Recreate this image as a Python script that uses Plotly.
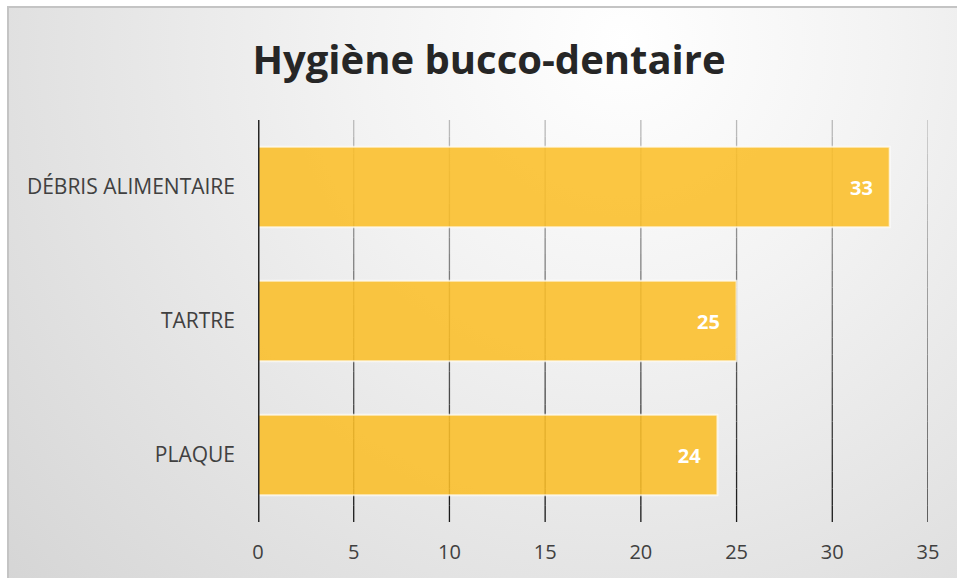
import base64
import plotly.graph_objects as go

categories = ["PLAQUE", "TARTRE", "DÉBRIS ALIMENTAIRE"]
values = [24, 25, 33]
x_ticks = [0, 5, 10, 15, 20, 25, 30, 35]
title_text = "Hygiène bucco-dentaire"

W, H = 957, 578
L, T = 258, 120
pw, ph = 670, 402
R, B = W - L - pw, H - T - ph

svg = f'''<svg xmlns="http://www.w3.org/2000/svg" width="{W}" height="{H}" viewBox="0 0 {W} {H}">
<defs><radialGradient id="g" gradientUnits="userSpaceOnUse" cx="623" cy="42" r="880">
<stop offset="0" stop-color="#ffffff"/><stop offset="0.3" stop-color="#f3f3f3"/><stop offset="1" stop-color="#d2d2d2"/>
</radialGradient></defs>
<rect x="0" y="0" width="{W}" height="{H}" fill="#ffffff"/>
<rect x="8" y="7" width="{W}" height="{H}" fill="url(#g)" stroke="#c4c4c4" stroke-width="2"/>
</svg>'''
src = "data:image/svg+xml;base64," + base64.b64encode(svg.encode()).decode()

font = "Open Sans"
nb = "\u00a0"

fig = go.Figure(go.Bar(
    x=values, y=categories, orientation="h",
    marker=dict(color="rgba(250,190,40,0.88)", line=dict(color="rgba(255,255,255,0.7)", width=2)),
    width=0.6,
    text=[str(v) + nb * 2 + "\u2009" for v in values], textposition="inside", insidetextanchor="end",
    textfont=dict(color="white", size=20, family=font, weight="bold"),
))

fig.update_layout(
    width=W, height=H,
    margin=dict(l=L, r=R, t=T, b=B),
    paper_bgcolor="white", plot_bgcolor="rgba(0,0,0,0)",
    showlegend=False,
    title=dict(text=title_text, x=489 / W, xanchor="center", y=1 - 60 / H, yanchor="middle",
               font=dict(family=font, size=40, color="#262626", weight="bold")),
    images=[dict(source=src, xref="paper", yref="paper",
                 x=-L / pw, y=1 + T / ph, sizex=W / pw, sizey=H / ph,
                 xanchor="left", yanchor="top", sizing="stretch", layer="below")],
    xaxis=dict(range=[0, 35], tickvals=x_ticks, ticktext=[str(t) for t in x_ticks],
               showgrid=False, zeroline=False,
               showline=False, ticks="", ticklabelstandoff=16,
               tickfont=dict(family=font, size=20, color="#404040")),
    yaxis=dict(showgrid=False, showline=False, zeroline=False, ticks="",
               ticklabelstandoff=22, tickfont=dict(family=font, size=21, color="#404040")),
    bargap=0.4,
)

# gradient gridlines (light at top, dark at bottom)
n = 24
for t in x_ticks[1:]:
    for i in range(n):
        f = i / (n - 1)
        c = int(185 - 160 * f)
        fig.add_shape(type="line", xref="x", yref="paper", x0=t, x1=t,
                      y0=1 - i / n, y1=1 - (i + 1) / n,
                      line=dict(color=f"rgb({c},{c},{c})", width=1.3), layer="below")
fig.add_shape(type="line", xref="x", yref="paper", x0=0, x1=0, y0=0, y1=1,
              line=dict(color="#262626", width=3))

fig.write_html("out.html",
               config={"displayModeBar": False},
               post_script="document.body.style.margin='0';"
                           "document.documentElement.style.overflow='hidden';"
                           "document.body.style.overflow='hidden';")
